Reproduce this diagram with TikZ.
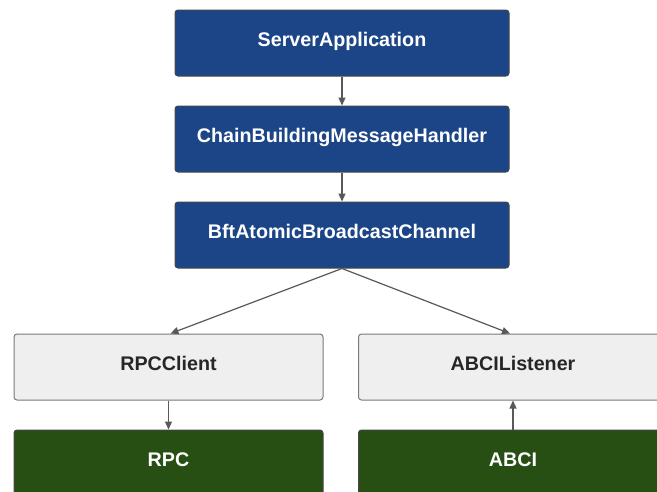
\documentclass[tikz,border=0pt]{standalone}
\usepackage{fontspec}
\setmainfont{Liberation Sans}
\usetikzlibrary{arrows.meta}
\definecolor{navy}{HTML}{1C4587}
\definecolor{forest}{HTML}{274E13}
\definecolor{paleg}{HTML}{EFEFEF}
\definecolor{edgeg}{HTML}{595959}
\begin{document}
\begin{tikzpicture}[x=1pt,y=-1pt,
  box/.style={rectangle, rounded corners=3pt, line width=1pt,
    minimum height=66pt, inner sep=0pt,
    font=\fontsize{19.7}{23}\selectfont\bfseries,
    text height=14pt, text depth=8pt},
  bluebox/.style={box, fill=navy, draw=edgeg!80!black, text=white, minimum width=334pt},
  greybox/.style={box, fill=paleg, draw=edgeg!80, text=black!85, minimum width=309pt},
  greenbox/.style={box, fill=forest, draw=edgeg!80!black, text=white, minimum width=309pt},
  link/.style={draw=edgeg, line width=1.2pt, -{Triangle[length=8pt,width=7pt]}}]
\useasboundingbox (0,0) rectangle (657,491);
\clip (0,0) rectangle (657,491);
\fill[white] (0,0) rectangle (657,491);

\node[bluebox] (srv) at (342,43) {ServerApplication};
\node[bluebox] (chain) at (342,139) {ChainBuildingMessageHandler};
\node[bluebox] (bft) at (342,235) {BftAtomicBroadcastChannel};

\node[greybox] (rpcc) at (168.5,367) {RPCClient};
\node[greybox] (abcil) at (513,367) {ABCIListener};

\node[greenbox] (rpc) at (168.5,463) {RPC};
\node[greenbox] (abci) at (513,463) {ABCI};

\draw[link] (srv.south) -- (chain.north);
\draw[link] (chain.south) -- (bft.north);
\draw[link] (bft.south) -- ([xshift=2pt]rpcc.north);
\draw[link] (bft.south) -- ([xshift=-3pt]abcil.north);
\draw[link] (rpcc.south) -- (rpc.north);
\draw[link] (abci.north) -- (abcil.south);
\end{tikzpicture}
\end{document}
